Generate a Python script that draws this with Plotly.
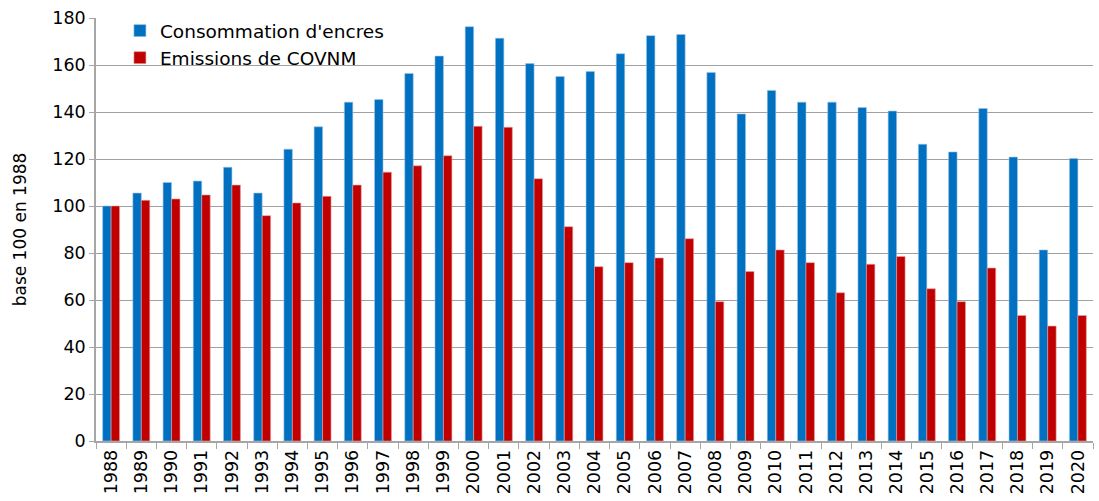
import plotly.graph_objects as go

years = [str(y) for y in range(1988, 2021)]
consommation = [100, 105.5, 110, 110.6, 116.5, 105.5, 124.2, 133.7, 144.2, 145.3,
                156.4, 163.8, 176.3, 171.4, 160.6, 155.1, 157.2, 164.8, 172.5, 173,
                156.8, 139.2, 149.2, 144.2, 144.2, 141.9, 140.4, 126.3, 123, 141.5,
                120.8, 81.3, 120.2]
emissions = [100, 102.4, 103, 104.7, 108.9, 95.9, 101.3, 104.1, 108.9, 114.4,
             117.1, 121.4, 133.9, 133.5, 111.6, 91.2, 74.2, 75.9, 77.9, 86.1,
             59.3, 72.1, 81.3, 75.9, 63.1, 75.2, 78.5, 64.8, 59.3, 73.6,
             53.4, 48.9, 53.4]

FONT = "DejaVu Sans"

fig = go.Figure()
fig.add_trace(go.Bar(x=years, y=consommation, name="Consommation d'encres",
                     marker=dict(color="#0070C0", line=dict(color="#9DC3E6", width=0.6))))
fig.add_trace(go.Bar(x=years, y=emissions, name="Emissions de COVNM",
                     marker=dict(color="#C00000", line=dict(color="#E8A0A0", width=0.6))))

fig.update_layout(
    width=1099, height=501,
    margin=dict(l=96, r=6, t=18, b=60, autoexpand=False),
    paper_bgcolor="white", plot_bgcolor="white",
    barmode="group", bargap=0.44, bargroupgap=0,
    font=dict(family=FONT, size=17, color="#000000"),
    legend=dict(x=0.024, y=1.014, xanchor="left", yanchor="top",
                bgcolor="rgba(0,0,0,0)", font=dict(size=18.5), tracegroupgap=0),
    xaxis=dict(type="category", tickangle=-90, tickfont=dict(size=17.5),
               automargin=False,
               showline=True, linecolor="#A6A6A6", linewidth=1.5,
               ticks="outside", ticklen=6, tickcolor="#A6A6A6", tickson="boundaries",
               showgrid=False),
    yaxis=dict(range=[0, 180], dtick=20, tickfont=dict(size=17.5),
               automargin=False,
               showline=True, linecolor="#A6A6A6", linewidth=1.5,
               ticks="outside", ticklen=5, tickcolor="#A6A6A6",
               showgrid=True, gridcolor="#A0A0A0", gridwidth=1.2,
               zeroline=False,
               title=dict(text="base 100 en 1988", font=dict(size=17), standoff=21)),
)

fig.write_html("out.html", config={"displayModeBar": False},
               post_script="document.body.style.margin='0';document.body.style.overflow='hidden';")
